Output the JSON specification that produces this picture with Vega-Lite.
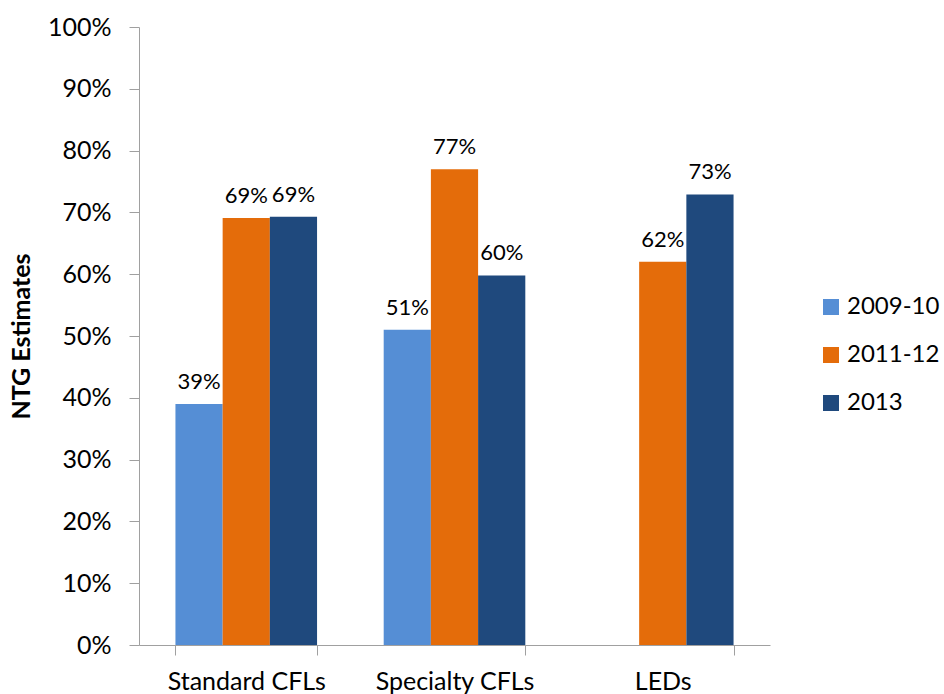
{
  "$schema": "https://vega.github.io/schema/vega-lite/v6.json",
  "width": 631,
  "height": 618,
  "autosize": {"type": "none"},
  "padding": {"left": 139, "top": 27, "right": 174, "bottom": 49},
  "config": {
    "font": "Lato",
    "view": {"stroke": null},
    "axis": {
      "domainColor": "#a0a0a0",
      "tickColor": "#a0a0a0",
      "grid": false,
      "labelFont": "Lato",
      "labelFontSize": 25,
      "labelColor": "#000000",
      "tickSize": 10
    }
  },
  "data": {
    "values": [
      {"category": "Standard CFLs", "period": "2009-10", "value": 0.39},
      {"category": "Standard CFLs", "period": "2011-12", "value": 0.691},
      {"category": "Standard CFLs", "period": "2013", "value": 0.693},
      {"category": "Specialty CFLs", "period": "2009-10", "value": 0.51},
      {"category": "Specialty CFLs", "period": "2011-12", "value": 0.77},
      {"category": "Specialty CFLs", "period": "2013", "value": 0.598},
      {"category": "LEDs", "period": "2011-12", "value": 0.62},
      {"category": "LEDs", "period": "2013", "value": 0.729}
    ]
  },
  "encoding": {
    "x": {
      "field": "category",
      "type": "nominal",
      "sort": ["Standard CFLs", "Specialty CFLs", "LEDs"],
      "scale": {"paddingInner": 0.32, "paddingOuter": 0.175},
      "axis": {"title": null, "labelAngle": 0, "tickBand": "extent", "labelPadding": 14}
    },
    "xOffset": {
      "field": "period",
      "type": "nominal",
      "sort": ["2009-10", "2011-12", "2013"]
    },
    "y": {
      "field": "value",
      "type": "quantitative",
      "scale": {"domain": [0, 1]},
      "axis": {
        "format": ".0%",
        "values": [0, 0.1, 0.2, 0.3, 0.4, 0.5, 0.6, 0.7, 0.8, 0.9, 1.0],
        "title": "NTG Estimates",
        "titleFont": "Lato",
        "titleFontSize": 25,
        "titleFontWeight": "bold",
        "titleColor": "#000000",
        "titlePadding": 13,
        "labelPadding": 18
      }
    }
  },
  "layer": [
    {
      "mark": {"type": "bar"},
      "encoding": {
        "color": {
          "field": "period",
          "type": "nominal",
          "sort": ["2009-10", "2011-12", "2013"],
          "scale": {"domain": ["2009-10", "2011-12", "2013"], "range": ["#558ED5", "#E46C0A", "#1F497D"]},
          "legend": {
            "title": null,
            "orient": "none",
            "legendX": 680,
            "legendY": 268,
            "symbolType": "square",
            "symbolSize": 256,
            "symbolStrokeWidth": 0,
            "labelFont": "Lato",
            "labelFontSize": 24,
            "labelColor": "#000000",
            "labelOffset": 4,
            "rowPadding": 24
          }
        }
      }
    },
    {
      "mark": {"type": "text", "baseline": "alphabetic", "dy": -15, "fontSize": 22, "font": "Lato", "color": "#000000"},
      "encoding": {
        "text": {"field": "value", "type": "quantitative", "format": ".0%"}
      }
    }
  ]
}
